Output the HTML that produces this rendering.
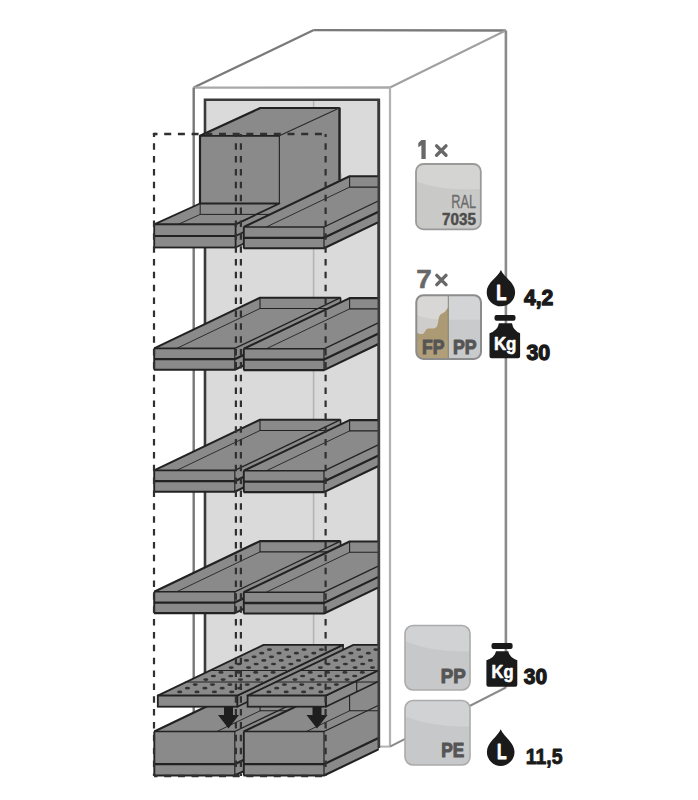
<!DOCTYPE html>
<html><head><meta charset="utf-8"><style>
html,body{margin:0;padding:0;background:#fff;}
svg{display:block;}
</style></head><body>
<svg width="698" height="800" viewBox="0 0 698 800">
<rect width="698" height="800" fill="#fff"/>
<line x1="193.7" y1="87.6" x2="313.8" y2="30.1" stroke="#7a7a7a" stroke-width="2.2" />
<line x1="313.8" y1="30.1" x2="505.7" y2="30.5" stroke="#7a7a7a" stroke-width="2.4" />
<line x1="390.0" y1="87.5" x2="505.7" y2="30.5" stroke="#a0a0a0" stroke-width="2.0" />
<line x1="193.7" y1="87.6" x2="390.0" y2="87.5" stroke="#a8a8a8" stroke-width="2.3" />
<line x1="390.0" y1="87.5" x2="390.0" y2="746.6" stroke="#b2b2b2" stroke-width="2.2" />
<line x1="505.9" y1="30.5" x2="505.9" y2="687.5" stroke="#8a8a8a" stroke-width="2.6" />
<line x1="390.0" y1="746.6" x2="505.9" y2="687.5" stroke="#8a8a8a" stroke-width="2.0" />
<line x1="193.7" y1="87.6" x2="193.7" y2="745.0" stroke="#787878" stroke-width="2.4" />
<line x1="378.8" y1="746.6" x2="390.0" y2="746.6" stroke="#b2b2b2" stroke-width="2.0" />
<path d="M205,748 L205,99.7 L378.8,99.7 L378.8,748" fill="#dadada" stroke="#3a3a3a" stroke-width="2.6"/>
<line x1="313.6" y1="101.0" x2="313.6" y2="745.0" stroke="#b5b5b5" stroke-width="1.6" />
<defs><clipPath id="inner"><rect x="0" y="0" width="378.8" height="800"/></clipPath></defs>
<polygon points="279.4,135.8 339.4,107.6 339.4,185.0 279.4,210.0" fill="#8a8a8a" stroke="none" stroke-width="0" stroke-linejoin="round" />
<polygon points="200.0,135.8 279.4,135.8 339.4,107.6 260.3,107.6" fill="#8a8a8a" stroke="none" stroke-width="0" stroke-linejoin="round" />
<rect x="200" y="135.8" width="79.4" height="68" fill="#8a8a8a"/>
<polyline points="200.0,203.5 200.0,135.8 260.3,108.0 339.4,108.0 339.4,180.0" fill="none" stroke="#222" stroke-width="2.2" stroke-linejoin="round" />
<line x1="200.0" y1="135.8" x2="279.4" y2="135.8" stroke="#222" stroke-width="1.8" />
<g clip-path="url(#inner)">
<polygon points="235.6,224.4 341.4,173.7 341.4,196.8 235.6,247.5" fill="#8a8a8a" stroke="none" stroke-width="0" stroke-linejoin="round" />
<line x1="235.6" y1="224.4" x2="247.6" y2="218.6" stroke="#222" stroke-width="1.6" />
<line x1="235.6" y1="247.5" x2="247.6" y2="241.7" stroke="#222" stroke-width="1.6" />
<line x1="235.6" y1="236.0" x2="341.4" y2="185.3" stroke="#222" stroke-width="1.6" />
<polygon points="279.4,135.8 339.4,107.6 339.4,185.0 279.4,212.0" fill="#8a8a8a" stroke="none" stroke-width="0" stroke-linejoin="round" />
<line x1="279.4" y1="203.5" x2="279.4" y2="135.8" stroke="#2a2a2a" stroke-width="1.2" />
<line x1="279.4" y1="135.8" x2="339.4" y2="108.0" stroke="#2a2a2a" stroke-width="1.2" />
<line x1="339.4" y1="108.0" x2="339.4" y2="180.0" stroke="#222" stroke-width="2.2" />
<polygon points="154.2,224.4 235.6,224.4 279.4,203.5 200.0,203.5" fill="#8a8a8a" stroke="#222" stroke-width="1.8" stroke-linejoin="round" />
<polyline points="200.2,203.5 200.2,214.4 277.0,214.4" fill="none" stroke="#222" stroke-width="1.0" stroke-linejoin="round" />
<line x1="200.2" y1="214.4" x2="178.1" y2="224.4" stroke="#222" stroke-width="0.9" />
<rect x="154.2" y="224.4" width="81.4" height="23.1" fill="#8a8a8a" stroke="#222" stroke-width="1.8"/>
<line x1="154.2" y1="236.0" x2="235.6" y2="236.0" stroke="#222" stroke-width="2.2" />
<polygon points="324.0,227.0 429.8,176.3 429.8,197.6 324.0,248.3" fill="#8a8a8a" stroke="none" stroke-width="0" stroke-linejoin="round" />
<line x1="324.0" y1="237.8" x2="429.8" y2="187.1" stroke="#222" stroke-width="2.2" />
<line x1="324.0" y1="248.3" x2="429.8" y2="197.6" stroke="#222" stroke-width="2.1" />
<line x1="429.8" y1="176.3" x2="429.8" y2="197.6" stroke="#222" stroke-width="1.6" />
<polygon points="243.8,227.0 324.0,227.0 429.8,176.3 349.6,176.3" fill="#8a8a8a" stroke="none" stroke-width="0" stroke-linejoin="round" />
<polyline points="243.8,227.0 349.6,176.3 429.8,176.3" fill="none" stroke="#222" stroke-width="2.1" stroke-linejoin="round" />
<line x1="324.0" y1="227.0" x2="429.8" y2="176.3" stroke="#222" stroke-width="1.3" />
<polyline points="349.6,176.3 349.6,187.1 426.8,187.1" fill="none" stroke="#222" stroke-width="1.1" stroke-linejoin="round" />
<line x1="349.6" y1="187.1" x2="266.3" y2="227.0" stroke="#222" stroke-width="0.9" />
<rect x="243.8" y="227.0" width="80.2" height="21.3" fill="#8a8a8a"/>
<line x1="243.6" y1="227.0" x2="324.2" y2="227.0" stroke="#222" stroke-width="1.6" />
<line x1="243.8" y1="237.8" x2="324.0" y2="237.8" stroke="#222" stroke-width="2.3" />
<line x1="243.5" y1="248.3" x2="324.3" y2="248.3" stroke="#222" stroke-width="2.1" />
<line x1="243.8" y1="227.0" x2="243.8" y2="248.3" stroke="#222" stroke-width="1.9" />
<line x1="324.0" y1="227.0" x2="324.0" y2="248.3" stroke="#222" stroke-width="1.2" />
<polygon points="234.8,348.4 340.6,297.7 340.6,319.0 234.8,369.7" fill="#8a8a8a" stroke="none" stroke-width="0" stroke-linejoin="round" />
<line x1="234.8" y1="359.2" x2="340.6" y2="308.5" stroke="#222" stroke-width="2.2" />
<line x1="234.8" y1="369.7" x2="340.6" y2="319.0" stroke="#222" stroke-width="2.1" />
<line x1="340.6" y1="297.7" x2="340.6" y2="319.0" stroke="#222" stroke-width="1.6" />
<polygon points="154.2,348.4 234.8,348.4 340.6,297.7 260.0,297.7" fill="#8a8a8a" stroke="none" stroke-width="0" stroke-linejoin="round" />
<polyline points="154.2,348.4 260.0,297.7 340.6,297.7" fill="none" stroke="#222" stroke-width="2.1" stroke-linejoin="round" />
<line x1="234.8" y1="348.4" x2="340.6" y2="297.7" stroke="#222" stroke-width="1.3" />
<polyline points="260.0,297.7 260.0,308.5 337.6,308.5" fill="none" stroke="#222" stroke-width="1.1" stroke-linejoin="round" />
<line x1="260.0" y1="308.5" x2="176.7" y2="348.4" stroke="#222" stroke-width="0.9" />
<rect x="154.2" y="348.4" width="80.6" height="21.3" fill="#8a8a8a"/>
<line x1="154.0" y1="348.4" x2="235.0" y2="348.4" stroke="#222" stroke-width="1.6" />
<line x1="154.2" y1="359.2" x2="234.8" y2="359.2" stroke="#222" stroke-width="2.3" />
<line x1="153.9" y1="369.7" x2="235.1" y2="369.7" stroke="#222" stroke-width="2.1" />
<line x1="154.2" y1="348.4" x2="154.2" y2="369.7" stroke="#222" stroke-width="1.9" />
<line x1="234.8" y1="348.4" x2="234.8" y2="369.7" stroke="#222" stroke-width="1.2" />
<polygon points="324.0,348.8 429.8,298.1 429.8,319.4 324.0,370.1" fill="#8a8a8a" stroke="none" stroke-width="0" stroke-linejoin="round" />
<line x1="324.0" y1="359.6" x2="429.8" y2="308.9" stroke="#222" stroke-width="2.2" />
<line x1="324.0" y1="370.1" x2="429.8" y2="319.4" stroke="#222" stroke-width="2.1" />
<line x1="429.8" y1="298.1" x2="429.8" y2="319.4" stroke="#222" stroke-width="1.6" />
<polygon points="243.8,348.8 324.0,348.8 429.8,298.1 349.6,298.1" fill="#8a8a8a" stroke="none" stroke-width="0" stroke-linejoin="round" />
<polyline points="243.8,348.8 349.6,298.1 429.8,298.1" fill="none" stroke="#222" stroke-width="2.1" stroke-linejoin="round" />
<line x1="324.0" y1="348.8" x2="429.8" y2="298.1" stroke="#222" stroke-width="1.3" />
<polyline points="349.6,298.1 349.6,308.9 426.8,308.9" fill="none" stroke="#222" stroke-width="1.1" stroke-linejoin="round" />
<line x1="349.6" y1="308.9" x2="266.3" y2="348.8" stroke="#222" stroke-width="0.9" />
<rect x="243.8" y="348.8" width="80.2" height="21.3" fill="#8a8a8a"/>
<line x1="243.6" y1="348.8" x2="324.2" y2="348.8" stroke="#222" stroke-width="1.6" />
<line x1="243.8" y1="359.6" x2="324.0" y2="359.6" stroke="#222" stroke-width="2.3" />
<line x1="243.5" y1="370.1" x2="324.3" y2="370.1" stroke="#222" stroke-width="2.1" />
<line x1="243.8" y1="348.8" x2="243.8" y2="370.1" stroke="#222" stroke-width="1.9" />
<line x1="324.0" y1="348.8" x2="324.0" y2="370.1" stroke="#222" stroke-width="1.2" />
<polygon points="234.8,470.4 340.6,419.7 340.6,441.0 234.8,491.7" fill="#8a8a8a" stroke="none" stroke-width="0" stroke-linejoin="round" />
<line x1="234.8" y1="481.2" x2="340.6" y2="430.5" stroke="#222" stroke-width="2.2" />
<line x1="234.8" y1="491.7" x2="340.6" y2="441.0" stroke="#222" stroke-width="2.1" />
<line x1="340.6" y1="419.7" x2="340.6" y2="441.0" stroke="#222" stroke-width="1.6" />
<polygon points="154.2,470.4 234.8,470.4 340.6,419.7 260.0,419.7" fill="#8a8a8a" stroke="none" stroke-width="0" stroke-linejoin="round" />
<polyline points="154.2,470.4 260.0,419.7 340.6,419.7" fill="none" stroke="#222" stroke-width="2.1" stroke-linejoin="round" />
<line x1="234.8" y1="470.4" x2="340.6" y2="419.7" stroke="#222" stroke-width="1.3" />
<polyline points="260.0,419.7 260.0,430.5 337.6,430.5" fill="none" stroke="#222" stroke-width="1.1" stroke-linejoin="round" />
<line x1="260.0" y1="430.5" x2="176.7" y2="470.4" stroke="#222" stroke-width="0.9" />
<rect x="154.2" y="470.4" width="80.6" height="21.3" fill="#8a8a8a"/>
<line x1="154.0" y1="470.4" x2="235.0" y2="470.4" stroke="#222" stroke-width="1.6" />
<line x1="154.2" y1="481.2" x2="234.8" y2="481.2" stroke="#222" stroke-width="2.3" />
<line x1="153.9" y1="491.7" x2="235.1" y2="491.7" stroke="#222" stroke-width="2.1" />
<line x1="154.2" y1="470.4" x2="154.2" y2="491.7" stroke="#222" stroke-width="1.9" />
<line x1="234.8" y1="470.4" x2="234.8" y2="491.7" stroke="#222" stroke-width="1.2" />
<polygon points="324.0,470.8 429.8,420.1 429.8,441.4 324.0,492.1" fill="#8a8a8a" stroke="none" stroke-width="0" stroke-linejoin="round" />
<line x1="324.0" y1="481.6" x2="429.8" y2="430.9" stroke="#222" stroke-width="2.2" />
<line x1="324.0" y1="492.1" x2="429.8" y2="441.4" stroke="#222" stroke-width="2.1" />
<line x1="429.8" y1="420.1" x2="429.8" y2="441.4" stroke="#222" stroke-width="1.6" />
<polygon points="243.8,470.8 324.0,470.8 429.8,420.1 349.6,420.1" fill="#8a8a8a" stroke="none" stroke-width="0" stroke-linejoin="round" />
<polyline points="243.8,470.8 349.6,420.1 429.8,420.1" fill="none" stroke="#222" stroke-width="2.1" stroke-linejoin="round" />
<line x1="324.0" y1="470.8" x2="429.8" y2="420.1" stroke="#222" stroke-width="1.3" />
<polyline points="349.6,420.1 349.6,430.9 426.8,430.9" fill="none" stroke="#222" stroke-width="1.1" stroke-linejoin="round" />
<line x1="349.6" y1="430.9" x2="266.3" y2="470.8" stroke="#222" stroke-width="0.9" />
<rect x="243.8" y="470.8" width="80.2" height="21.3" fill="#8a8a8a"/>
<line x1="243.6" y1="470.8" x2="324.2" y2="470.8" stroke="#222" stroke-width="1.6" />
<line x1="243.8" y1="481.6" x2="324.0" y2="481.6" stroke="#222" stroke-width="2.3" />
<line x1="243.5" y1="492.1" x2="324.3" y2="492.1" stroke="#222" stroke-width="2.1" />
<line x1="243.8" y1="470.8" x2="243.8" y2="492.1" stroke="#222" stroke-width="1.9" />
<line x1="324.0" y1="470.8" x2="324.0" y2="492.1" stroke="#222" stroke-width="1.2" />
<polygon points="234.8,591.8 340.6,541.1 340.6,562.4 234.8,613.1" fill="#8a8a8a" stroke="none" stroke-width="0" stroke-linejoin="round" />
<line x1="234.8" y1="602.6" x2="340.6" y2="551.9" stroke="#222" stroke-width="2.2" />
<line x1="234.8" y1="613.1" x2="340.6" y2="562.4" stroke="#222" stroke-width="2.1" />
<line x1="340.6" y1="541.1" x2="340.6" y2="562.4" stroke="#222" stroke-width="1.6" />
<polygon points="154.2,591.8 234.8,591.8 340.6,541.1 260.0,541.1" fill="#8a8a8a" stroke="none" stroke-width="0" stroke-linejoin="round" />
<polyline points="154.2,591.8 260.0,541.1 340.6,541.1" fill="none" stroke="#222" stroke-width="2.1" stroke-linejoin="round" />
<line x1="234.8" y1="591.8" x2="340.6" y2="541.1" stroke="#222" stroke-width="1.3" />
<polyline points="260.0,541.1 260.0,551.9 337.6,551.9" fill="none" stroke="#222" stroke-width="1.1" stroke-linejoin="round" />
<line x1="260.0" y1="551.9" x2="176.7" y2="591.8" stroke="#222" stroke-width="0.9" />
<rect x="154.2" y="591.8" width="80.6" height="21.3" fill="#8a8a8a"/>
<line x1="154.0" y1="591.8" x2="235.0" y2="591.8" stroke="#222" stroke-width="1.6" />
<line x1="154.2" y1="602.6" x2="234.8" y2="602.6" stroke="#222" stroke-width="2.3" />
<line x1="153.9" y1="613.1" x2="235.1" y2="613.1" stroke="#222" stroke-width="2.1" />
<line x1="154.2" y1="591.8" x2="154.2" y2="613.1" stroke="#222" stroke-width="1.9" />
<line x1="234.8" y1="591.8" x2="234.8" y2="613.1" stroke="#222" stroke-width="1.2" />
<polygon points="324.0,592.2 429.8,541.5 429.8,562.8 324.0,613.5" fill="#8a8a8a" stroke="none" stroke-width="0" stroke-linejoin="round" />
<line x1="324.0" y1="603.0" x2="429.8" y2="552.3" stroke="#222" stroke-width="2.2" />
<line x1="324.0" y1="613.5" x2="429.8" y2="562.8" stroke="#222" stroke-width="2.1" />
<line x1="429.8" y1="541.5" x2="429.8" y2="562.8" stroke="#222" stroke-width="1.6" />
<polygon points="243.8,592.2 324.0,592.2 429.8,541.5 349.6,541.5" fill="#8a8a8a" stroke="none" stroke-width="0" stroke-linejoin="round" />
<polyline points="243.8,592.2 349.6,541.5 429.8,541.5" fill="none" stroke="#222" stroke-width="2.1" stroke-linejoin="round" />
<line x1="324.0" y1="592.2" x2="429.8" y2="541.5" stroke="#222" stroke-width="1.3" />
<polyline points="349.6,541.5 349.6,552.3 426.8,552.3" fill="none" stroke="#222" stroke-width="1.1" stroke-linejoin="round" />
<line x1="349.6" y1="552.3" x2="266.3" y2="592.2" stroke="#222" stroke-width="0.9" />
<rect x="243.8" y="592.2" width="80.2" height="21.3" fill="#8a8a8a"/>
<line x1="243.6" y1="592.2" x2="324.2" y2="592.2" stroke="#222" stroke-width="1.6" />
<line x1="243.8" y1="603.0" x2="324.0" y2="603.0" stroke="#222" stroke-width="2.3" />
<line x1="243.5" y1="613.5" x2="324.3" y2="613.5" stroke="#222" stroke-width="2.1" />
<line x1="243.8" y1="592.2" x2="243.8" y2="613.5" stroke="#222" stroke-width="1.9" />
<line x1="324.0" y1="592.2" x2="324.0" y2="613.5" stroke="#222" stroke-width="1.2" />
</g>
<g clip-path="url(#inner)">
<polygon points="234.8,731.5 340.6,680.8 340.6,724.8 234.8,775.5" fill="#8a8a8a" stroke="none" stroke-width="0" stroke-linejoin="round" />
<line x1="234.8" y1="764.2" x2="340.6" y2="713.5" stroke="#222" stroke-width="2.2" />
<line x1="234.8" y1="775.5" x2="340.6" y2="724.8" stroke="#222" stroke-width="2.1" />
<line x1="340.6" y1="680.8" x2="340.6" y2="724.8" stroke="#222" stroke-width="1.6" />
<polygon points="154.3,731.5 234.8,731.5 340.6,680.8 260.1,680.8" fill="#8a8a8a" stroke="none" stroke-width="0" stroke-linejoin="round" />
<polyline points="154.3,731.5 260.1,680.8 340.6,680.8" fill="none" stroke="#222" stroke-width="2.1" stroke-linejoin="round" />
<line x1="234.8" y1="731.5" x2="340.6" y2="680.8" stroke="#222" stroke-width="1.3" />
<polyline points="260.1,680.8 260.1,710.8 337.6,710.8" fill="none" stroke="#222" stroke-width="1.1" stroke-linejoin="round" />
<line x1="260.1" y1="710.8" x2="216.9" y2="731.5" stroke="#222" stroke-width="0.9" />
<rect x="154.3" y="731.5" width="80.5" height="44.0" fill="#8a8a8a"/>
<line x1="154.1" y1="731.5" x2="235.0" y2="731.5" stroke="#222" stroke-width="1.6" />
<line x1="154.3" y1="764.2" x2="234.8" y2="764.2" stroke="#222" stroke-width="2.3" />
<line x1="154.0" y1="775.5" x2="235.1" y2="775.5" stroke="#222" stroke-width="2.1" />
<line x1="154.3" y1="731.5" x2="154.3" y2="775.5" stroke="#222" stroke-width="1.9" />
<line x1="234.8" y1="731.5" x2="234.8" y2="775.5" stroke="#222" stroke-width="1.2" />
<polygon points="324.0,731.5 429.8,680.8 429.8,724.8 324.0,775.5" fill="#8a8a8a" stroke="none" stroke-width="0" stroke-linejoin="round" />
<line x1="324.0" y1="764.2" x2="429.8" y2="713.5" stroke="#222" stroke-width="2.2" />
<line x1="324.0" y1="775.5" x2="429.8" y2="724.8" stroke="#222" stroke-width="2.1" />
<line x1="429.8" y1="680.8" x2="429.8" y2="724.8" stroke="#222" stroke-width="1.6" />
<polygon points="243.8,731.5 324.0,731.5 429.8,680.8 349.6,680.8" fill="#8a8a8a" stroke="none" stroke-width="0" stroke-linejoin="round" />
<polyline points="243.8,731.5 349.6,680.8 429.8,680.8" fill="none" stroke="#222" stroke-width="2.1" stroke-linejoin="round" />
<line x1="324.0" y1="731.5" x2="429.8" y2="680.8" stroke="#222" stroke-width="1.3" />
<polyline points="349.6,680.8 349.6,710.8 426.8,710.8" fill="none" stroke="#222" stroke-width="1.1" stroke-linejoin="round" />
<line x1="349.6" y1="710.8" x2="306.4" y2="731.5" stroke="#222" stroke-width="0.9" />
<rect x="243.8" y="731.5" width="80.2" height="44.0" fill="#8a8a8a"/>
<line x1="243.6" y1="731.5" x2="324.2" y2="731.5" stroke="#222" stroke-width="1.6" />
<line x1="243.8" y1="764.2" x2="324.0" y2="764.2" stroke="#222" stroke-width="2.3" />
<line x1="243.5" y1="775.5" x2="324.3" y2="775.5" stroke="#222" stroke-width="2.1" />
<line x1="243.8" y1="731.5" x2="243.8" y2="775.5" stroke="#222" stroke-width="1.9" />
<line x1="324.0" y1="731.5" x2="324.0" y2="775.5" stroke="#222" stroke-width="1.2" />
<polygon points="237.3,695.6 343.1,644.9 343.1,656.0 237.3,706.7" fill="#8a8a8a" stroke="#222" stroke-width="1.6" stroke-linejoin="round" />
<polygon points="157.8,695.6 237.3,695.6 343.1,644.9 263.6,644.9" fill="#8a8a8a" stroke="#222" stroke-width="1.8" stroke-linejoin="round" />
<ellipse cx="179.7" cy="691.9" rx="2.6" ry="1.35" fill="#333"/>
<ellipse cx="197.0" cy="691.9" rx="2.6" ry="1.35" fill="#333"/>
<ellipse cx="214.4" cy="691.9" rx="2.6" ry="1.35" fill="#333"/>
<ellipse cx="231.8" cy="691.9" rx="2.6" ry="1.35" fill="#333"/>
<ellipse cx="187.5" cy="688.2" rx="2.6" ry="1.35" fill="#333"/>
<ellipse cx="204.9" cy="688.2" rx="2.6" ry="1.35" fill="#333"/>
<ellipse cx="222.2" cy="688.2" rx="2.6" ry="1.35" fill="#333"/>
<ellipse cx="239.6" cy="688.2" rx="2.6" ry="1.35" fill="#333"/>
<ellipse cx="195.2" cy="684.6" rx="2.6" ry="1.35" fill="#333"/>
<ellipse cx="212.5" cy="684.6" rx="2.6" ry="1.35" fill="#333"/>
<ellipse cx="229.9" cy="684.6" rx="2.6" ry="1.35" fill="#333"/>
<ellipse cx="247.2" cy="684.6" rx="2.6" ry="1.35" fill="#333"/>
<ellipse cx="205.8" cy="679.6" rx="2.6" ry="1.35" fill="#333"/>
<ellipse cx="223.1" cy="679.6" rx="2.6" ry="1.35" fill="#333"/>
<ellipse cx="240.5" cy="679.6" rx="2.6" ry="1.35" fill="#333"/>
<ellipse cx="257.8" cy="679.6" rx="2.6" ry="1.35" fill="#333"/>
<ellipse cx="213.4" cy="676.0" rx="2.6" ry="1.35" fill="#333"/>
<ellipse cx="230.8" cy="676.0" rx="2.6" ry="1.35" fill="#333"/>
<ellipse cx="248.1" cy="676.0" rx="2.6" ry="1.35" fill="#333"/>
<ellipse cx="265.5" cy="676.0" rx="2.6" ry="1.35" fill="#333"/>
<ellipse cx="221.0" cy="672.4" rx="2.6" ry="1.35" fill="#333"/>
<ellipse cx="238.4" cy="672.4" rx="2.6" ry="1.35" fill="#333"/>
<ellipse cx="255.7" cy="672.4" rx="2.6" ry="1.35" fill="#333"/>
<ellipse cx="273.1" cy="672.4" rx="2.6" ry="1.35" fill="#333"/>
<ellipse cx="231.2" cy="667.6" rx="2.6" ry="1.35" fill="#333"/>
<ellipse cx="248.6" cy="667.6" rx="2.6" ry="1.35" fill="#333"/>
<ellipse cx="265.9" cy="667.6" rx="2.6" ry="1.35" fill="#333"/>
<ellipse cx="283.3" cy="667.6" rx="2.6" ry="1.35" fill="#333"/>
<ellipse cx="238.8" cy="664.0" rx="2.6" ry="1.35" fill="#333"/>
<ellipse cx="256.2" cy="664.0" rx="2.6" ry="1.35" fill="#333"/>
<ellipse cx="273.5" cy="664.0" rx="2.6" ry="1.35" fill="#333"/>
<ellipse cx="290.9" cy="664.0" rx="2.6" ry="1.35" fill="#333"/>
<ellipse cx="246.5" cy="660.4" rx="2.6" ry="1.35" fill="#333"/>
<ellipse cx="263.8" cy="660.4" rx="2.6" ry="1.35" fill="#333"/>
<ellipse cx="281.2" cy="660.4" rx="2.6" ry="1.35" fill="#333"/>
<ellipse cx="298.5" cy="660.4" rx="2.6" ry="1.35" fill="#333"/>
<ellipse cx="254.1" cy="656.8" rx="2.6" ry="1.35" fill="#333"/>
<ellipse cx="271.5" cy="656.8" rx="2.6" ry="1.35" fill="#333"/>
<ellipse cx="288.8" cy="656.8" rx="2.6" ry="1.35" fill="#333"/>
<ellipse cx="306.2" cy="656.8" rx="2.6" ry="1.35" fill="#333"/>
<ellipse cx="261.7" cy="653.2" rx="2.6" ry="1.35" fill="#333"/>
<ellipse cx="279.1" cy="653.2" rx="2.6" ry="1.35" fill="#333"/>
<ellipse cx="296.4" cy="653.2" rx="2.6" ry="1.35" fill="#333"/>
<ellipse cx="313.8" cy="653.2" rx="2.6" ry="1.35" fill="#333"/>
<ellipse cx="269.4" cy="649.6" rx="2.6" ry="1.35" fill="#333"/>
<ellipse cx="286.7" cy="649.6" rx="2.6" ry="1.35" fill="#333"/>
<ellipse cx="304.1" cy="649.6" rx="2.6" ry="1.35" fill="#333"/>
<ellipse cx="321.4" cy="649.6" rx="2.6" ry="1.35" fill="#333"/>
<line x1="184.9" y1="682.0" x2="263.1" y2="682.0" stroke="#222" stroke-width="1.0" />
<line x1="208.9" y1="670.5" x2="287.1" y2="670.5" stroke="#222" stroke-width="1.0" />
<rect x="157.8" y="695.6" width="79.5" height="11.1" fill="#8a8a8a" stroke="#222" stroke-width="1.8"/>
<polygon points="325.8,695.6 431.6,644.9 431.6,656.0 325.8,706.7" fill="#8a8a8a" stroke="#222" stroke-width="1.6" stroke-linejoin="round" />
<polygon points="247.6,695.6 325.8,695.6 431.6,644.9 353.4,644.9" fill="#8a8a8a" stroke="#222" stroke-width="1.8" stroke-linejoin="round" />
<ellipse cx="268.9" cy="691.9" rx="2.6" ry="1.35" fill="#333"/>
<ellipse cx="286.2" cy="691.9" rx="2.6" ry="1.35" fill="#333"/>
<ellipse cx="303.6" cy="691.9" rx="2.6" ry="1.35" fill="#333"/>
<ellipse cx="320.9" cy="691.9" rx="2.6" ry="1.35" fill="#333"/>
<ellipse cx="276.7" cy="688.2" rx="2.6" ry="1.35" fill="#333"/>
<ellipse cx="294.1" cy="688.2" rx="2.6" ry="1.35" fill="#333"/>
<ellipse cx="311.4" cy="688.2" rx="2.6" ry="1.35" fill="#333"/>
<ellipse cx="328.8" cy="688.2" rx="2.6" ry="1.35" fill="#333"/>
<ellipse cx="284.4" cy="684.6" rx="2.6" ry="1.35" fill="#333"/>
<ellipse cx="301.7" cy="684.6" rx="2.6" ry="1.35" fill="#333"/>
<ellipse cx="319.1" cy="684.6" rx="2.6" ry="1.35" fill="#333"/>
<ellipse cx="336.4" cy="684.6" rx="2.6" ry="1.35" fill="#333"/>
<ellipse cx="295.0" cy="679.6" rx="2.6" ry="1.35" fill="#333"/>
<ellipse cx="312.3" cy="679.6" rx="2.6" ry="1.35" fill="#333"/>
<ellipse cx="329.7" cy="679.6" rx="2.6" ry="1.35" fill="#333"/>
<ellipse cx="347.0" cy="679.6" rx="2.6" ry="1.35" fill="#333"/>
<ellipse cx="302.6" cy="676.0" rx="2.6" ry="1.35" fill="#333"/>
<ellipse cx="320.0" cy="676.0" rx="2.6" ry="1.35" fill="#333"/>
<ellipse cx="337.3" cy="676.0" rx="2.6" ry="1.35" fill="#333"/>
<ellipse cx="354.7" cy="676.0" rx="2.6" ry="1.35" fill="#333"/>
<ellipse cx="310.2" cy="672.4" rx="2.6" ry="1.35" fill="#333"/>
<ellipse cx="327.6" cy="672.4" rx="2.6" ry="1.35" fill="#333"/>
<ellipse cx="344.9" cy="672.4" rx="2.6" ry="1.35" fill="#333"/>
<ellipse cx="362.3" cy="672.4" rx="2.6" ry="1.35" fill="#333"/>
<ellipse cx="320.4" cy="667.6" rx="2.6" ry="1.35" fill="#333"/>
<ellipse cx="337.8" cy="667.6" rx="2.6" ry="1.35" fill="#333"/>
<ellipse cx="355.1" cy="667.6" rx="2.6" ry="1.35" fill="#333"/>
<ellipse cx="372.5" cy="667.6" rx="2.6" ry="1.35" fill="#333"/>
<ellipse cx="328.0" cy="664.0" rx="2.6" ry="1.35" fill="#333"/>
<ellipse cx="345.4" cy="664.0" rx="2.6" ry="1.35" fill="#333"/>
<ellipse cx="362.7" cy="664.0" rx="2.6" ry="1.35" fill="#333"/>
<ellipse cx="335.7" cy="660.4" rx="2.6" ry="1.35" fill="#333"/>
<ellipse cx="353.0" cy="660.4" rx="2.6" ry="1.35" fill="#333"/>
<ellipse cx="370.4" cy="660.4" rx="2.6" ry="1.35" fill="#333"/>
<ellipse cx="343.3" cy="656.8" rx="2.6" ry="1.35" fill="#333"/>
<ellipse cx="360.7" cy="656.8" rx="2.6" ry="1.35" fill="#333"/>
<ellipse cx="350.9" cy="653.2" rx="2.6" ry="1.35" fill="#333"/>
<ellipse cx="368.3" cy="653.2" rx="2.6" ry="1.35" fill="#333"/>
<ellipse cx="358.6" cy="649.6" rx="2.6" ry="1.35" fill="#333"/>
<ellipse cx="375.9" cy="649.6" rx="2.6" ry="1.35" fill="#333"/>
<line x1="275.4" y1="682.0" x2="378.3" y2="682.0" stroke="#222" stroke-width="1.0" />
<line x1="299.4" y1="670.5" x2="378.3" y2="670.5" stroke="#222" stroke-width="1.0" />
<rect x="247.6" y="695.6" width="78.2" height="11.1" fill="#8a8a8a" stroke="#222" stroke-width="1.8"/>
<line x1="356.7" y1="681.5" x2="356.7" y2="691.8" stroke="#222" stroke-width="1.2" />
</g>
<line x1="378.8" y1="99.7" x2="378.8" y2="748.0" stroke="#3a3a3a" stroke-width="2.6" />
<polygon points="224.0,707.0 233.0,707.0 233.0,715.0 239.0,715.0 228.5,728.5 218.0,715.0 224.0,715.0" fill="#1e1e1e" stroke="none" stroke-width="0" stroke-linejoin="round" />
<polygon points="312.5,707.0 321.5,707.0 321.5,715.0 327.5,715.0 317.0,728.5 306.5,715.0 312.5,715.0" fill="#1e1e1e" stroke="none" stroke-width="0" stroke-linejoin="round" />
<line x1="154.0" y1="134.0" x2="154.0" y2="776.0" stroke="#303030" stroke-width="2.2" stroke-dasharray="6.5,6.36" stroke-dashoffset="3.6"/>
<line x1="235.9" y1="134.0" x2="235.9" y2="776.0" stroke="#303030" stroke-width="2.2" stroke-dasharray="6.5,6.36" stroke-dashoffset="3.6"/>
<line x1="240.9" y1="134.0" x2="240.9" y2="776.0" stroke="#303030" stroke-width="2.2" stroke-dasharray="6.5,6.36" stroke-dashoffset="3.6"/>
<line x1="325.6" y1="134.0" x2="325.6" y2="776.0" stroke="#303030" stroke-width="2.2" stroke-dasharray="6.5,6.36" stroke-dashoffset="3.6"/>
<line x1="154.0" y1="134.0" x2="325.6" y2="134.0" stroke="#303030" stroke-width="2.3" stroke-dasharray="7,6.7" stroke-dashoffset="3.5"/>
<line x1="154.0" y1="776.0" x2="325.6" y2="776.0" stroke="#303030" stroke-width="2.3" stroke-dasharray="7,6.7" stroke-dashoffset="3.5"/>
<line x1="152.8" y1="134.0" x2="156.4" y2="134.0" stroke="#303030" stroke-width="2.3" />
<g font-family="Liberation Sans, sans-serif">
<path d="M421.4,140 L425.7,140 L425.7,159 L421.4,159 L421.4,145.2 L418.3,147.2 L418.3,143 Z" fill="#686868"/>
<path d="M436.6,145.9 L446.0,155.2 M446.0,145.9 L436.6,155.2" stroke="#686868" stroke-width="3.4" stroke-linecap="round"/>
<rect x="416" y="164" width="64.8" height="65.4" rx="7.5" fill="#d4d4d2"/>
<path d="M416,181 Q440,191 480.8,189 L480.8,222 Q480.8,229.4 473,229.4 L424,229.4 Q416,229.4 416,222 Z" fill="#c9c9c7"/>
<rect x="416" y="164" width="64.8" height="65.4" rx="7.5" fill="none" stroke="#9a9a9a" stroke-width="1.8"/>
<text x="451.3" y="207.9" font-size="18.9" font-weight="normal" fill="#6c6c6c" stroke="#6c6c6c" stroke-width="0.3" stroke-linejoin="round" textLength="24.9" lengthAdjust="spacingAndGlyphs">RAL</text>
<text x="442.1" y="224.7" font-size="16.6" font-weight="bold" fill="#4d4d4d" stroke="#4d4d4d" stroke-width="0.5" stroke-linejoin="round" textLength="33.8" lengthAdjust="spacingAndGlyphs">7035</text>
<text x="416.3" y="288.2" font-size="25.5" font-weight="bold" fill="#686868" stroke="#686868" stroke-width="0.5" stroke-linejoin="round" textLength="15.5" lengthAdjust="spacingAndGlyphs">7</text>
<path d="M436.8,275.4 L446.0,284.6 M446.0,275.4 L436.8,284.6" stroke="#686868" stroke-width="3.4" stroke-linecap="round"/>
<clipPath id="sw1"><rect x="416.3" y="295.2" width="64.7" height="63.7" rx="7"/></clipPath>
<g clip-path="url(#sw1)">
<rect x="448.3" y="294" width="34" height="66" fill="#c8cacb"/>
<rect x="448.3" y="294" width="34" height="25.7" fill="#d3d4d5"/>
<rect x="414" y="294" width="34.3" height="66" fill="#d9d7d5"/>
<path d="M414,314 Q432,322 448.3,318 L448.3,360 L414,360 Z" fill="#cfcdcb"/>
<path d="M414,331 C417,333 421,335 423.5,333.5 C425.5,332 425.5,329 428,328.6 C431,328.2 434,329.5 436.5,327 C438.5,324.5 437.8,320 439.5,316 C441,313 444,313.5 446,310.5 C447,309 447.8,307.8 448.3,307 L448.3,360 L414,360 Z" fill="#ab9a74"/>
<path d="M414,340 L448.3,340 L448.3,360 L414,360 Z" fill="#b5a47e" opacity="0.6"/>
<line x1="448.3" y1="294" x2="448.3" y2="360" stroke="#7a7a70" stroke-width="0.9"/>
</g>
<rect x="416.3" y="295.2" width="64.7" height="63.7" rx="7" fill="none" stroke="#8c8c8c" stroke-width="2"/>
<text x="422.0" y="353.8" font-size="19.5" font-weight="bold" fill="#555" stroke="#555" stroke-width="1.0" stroke-linejoin="round" textLength="22.4" lengthAdjust="spacingAndGlyphs">FP</text>
<text x="452.9" y="353.8" font-size="19.5" font-weight="bold" fill="#555" stroke="#555" stroke-width="1.0" stroke-linejoin="round" textLength="23.6" lengthAdjust="spacingAndGlyphs">PP</text>
<path d="M500.9,270.1 C503.4,277.1 515.1,282.2 515.1,292.2 A14.2,14.2 0 0 1 486.7,292.2 C486.7,282.2 498.4,277.1 500.9,270.1 Z" fill="#1a1a1a"/>
<text x="496.2" y="300.1" font-size="21.5" font-weight="bold" fill="#fff" stroke="#fff" stroke-width="0.9" stroke-linejoin="round" textLength="10.2" lengthAdjust="spacingAndGlyphs">L</text>
<text x="523.9" y="305.1" font-size="22.6" font-weight="bold" fill="#1a1a1a" stroke="#1a1a1a" stroke-width="1.3" stroke-linejoin="round" textLength="29.4" lengthAdjust="spacingAndGlyphs">4,2</text>
<rect x="494.5" y="315.1" width="21.0" height="5.7" rx="2" fill="#1a1a1a"/><path d="M498.9,323.3 L512.0,323.3 Q513.0,330.3 520.1,333.3 L520.1,356.3 Q520.1,358.3 518.1,358.3 L491.5,358.3 Q489.5,358.3 489.5,356.3 L489.5,333.3 Q497.9,330.3 498.9,323.3 Z" fill="#1a1a1a"/>
<text x="493.9" y="350.1" font-size="18.9" font-weight="bold" fill="#fff" stroke="#fff" stroke-width="0.6" stroke-linejoin="round" textLength="22.5" lengthAdjust="spacingAndGlyphs">Kg</text>
<text x="526.4" y="359.5" font-size="21.8" font-weight="bold" fill="#1a1a1a" stroke="#1a1a1a" stroke-width="1.3" stroke-linejoin="round" textLength="23.7" lengthAdjust="spacingAndGlyphs">30</text>
<rect x="405" y="625.5" width="65" height="64.5" rx="8" fill="#c7c8c9"/>
<path d="M405,641 Q430,652 470,651.6 L470,633 Q470,625.5 462,625.5 L413,625.5 Q405,625.5 405,633 Z" fill="#d1d2d3"/>
<rect x="405" y="625.5" width="65" height="64.5" rx="8" fill="none" stroke="#ababab" stroke-width="1.6"/>
<text x="440.7" y="683.0" font-size="19.6" font-weight="bold" fill="#555" stroke="#555" stroke-width="1.0" stroke-linejoin="round" textLength="25.0" lengthAdjust="spacingAndGlyphs">PP</text>
<rect x="405" y="700.5" width="65" height="64.5" rx="8" fill="#c7c8c9"/>
<path d="M405,716 Q430,727 470,726.6 L470,708 Q470,700.5 462,700.5 L413,700.5 Q405,700.5 405,708 Z" fill="#d1d2d3"/>
<rect x="405" y="700.5" width="65" height="64.5" rx="8" fill="none" stroke="#ababab" stroke-width="1.6"/>
<text x="441.3" y="757.4" font-size="19.6" font-weight="bold" fill="#555" stroke="#555" stroke-width="1.0" stroke-linejoin="round" textLength="23.0" lengthAdjust="spacingAndGlyphs">PE</text>
<rect x="491.5" y="642.9" width="21.1" height="6.2" rx="2" fill="#1a1a1a"/><path d="M496.0,651.3 L508.3,651.3 Q509.3,657.3 517.3,660.3 L517.3,684.7 Q517.3,686.7 515.3,686.7 L488.4,686.7 Q486.4,686.7 486.4,684.7 L486.4,660.3 Q495.0,657.3 496.0,651.3 Z" fill="#1a1a1a"/>
<text x="491.5" y="677.7" font-size="18.8" font-weight="bold" fill="#fff" stroke="#fff" stroke-width="0.6" stroke-linejoin="round" textLength="22.0" lengthAdjust="spacingAndGlyphs">Kg</text>
<text x="523.8" y="684.2" font-size="22.6" font-weight="bold" fill="#1a1a1a" stroke="#1a1a1a" stroke-width="1.3" stroke-linejoin="round" textLength="23.2" lengthAdjust="spacingAndGlyphs">30</text>
<path d="M500.7,729.2 C503.2,736.2 514.5,742.1 514.5,752.1 A13.8,13.8 0 0 1 486.9,752.1 C486.9,742.1 498.2,736.2 500.7,729.2 Z" fill="#1a1a1a"/>
<text x="497.0" y="758.8" font-size="21.5" font-weight="bold" fill="#fff" stroke="#fff" stroke-width="0.9" stroke-linejoin="round" textLength="9.6" lengthAdjust="spacingAndGlyphs">L</text>
<text x="525.7" y="764.0" font-size="21.2" font-weight="bold" fill="#1a1a1a" stroke="#1a1a1a" stroke-width="0.9" stroke-linejoin="round" textLength="36.8" lengthAdjust="spacingAndGlyphs">11,5</text>
</g>
</svg>
</body></html>
